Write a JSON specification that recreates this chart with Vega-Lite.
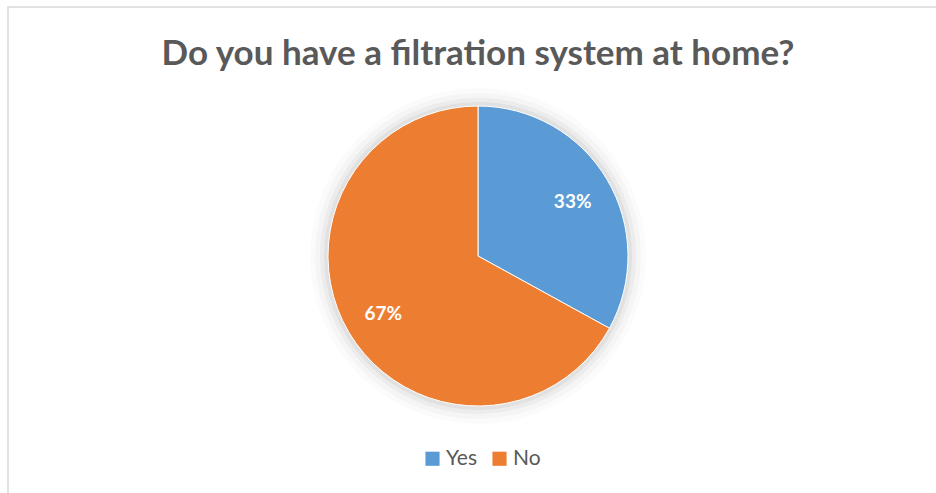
{
  "$schema": "https://vega.github.io/schema/vega-lite/v6.json",
  "width": 940,
  "height": 498,
  "autosize": "none",
  "padding": {"left": 8, "top": 7, "right": 0, "bottom": 0},
  "background": "white",
  "title": {
    "text": "Do you have a filtration system at home?",
    "font": "Lato",
    "fontSize": 35,
    "fontWeight": "bold",
    "color": "#595959",
    "anchor": "middle",
    "offset": -66
  },
  "data": {"values": [
    {"answer": "Yes", "value": 33, "label": "33%"},
    {"answer": "No", "value": 67, "label": "67%"}
  ]},
  "layer": [
    {
      "data": {"values": [{"frame": 1}]},
      "mark": {"type": "rect", "fill": null, "stroke": "#d9d9d9", "strokeWidth": 1.5},
      "encoding": {}
    },
    {
      "encoding": {
        "theta": {"field": "value", "type": "quantitative", "stack": true},
        "order": {"field": "answer", "sort": "descending"}
      },
      "layer": [
        {"mark": {"type": "arc", "radius": 168, "fill": "#000000", "opacity": 0.015}},
        {"mark": {"type": "arc", "radius": 163, "fill": "#000000", "opacity": 0.025}},
        {"mark": {"type": "arc", "radius": 158, "fill": "#000000", "opacity": 0.035}},
        {"mark": {"type": "arc", "radius": 154, "fill": "#000000", "opacity": 0.045}},
        {
          "mark": {"type": "arc", "radius": 150, "stroke": "white", "strokeWidth": 1},
          "encoding": {
            "color": {
              "field": "answer",
              "type": "nominal",
              "scale": {"domain": ["Yes", "No"], "range": ["#5B9BD5", "#ED7D31"]},
              "legend": {
                "title": null,
                "orient": "none",
                "direction": "horizontal",
                "legendX": 414,
                "legendY": 441,
                "symbolType": "square",
                "symbolSize": 200,
                "symbolStrokeWidth": 0,
                "labelFont": "Lato",
                "labelFontSize": 21,
                "labelColor": "#595959",
                "columnPadding": 12,
                "labelOffset": 3
              }
            }
          }
        },
        {
          "mark": {"type": "text", "radius": 110, "font": "Lato", "fontSize": 19, "fontWeight": "bold", "fill": "white", "dy": 2},
          "encoding": {"text": {"field": "label", "type": "nominal"}}
        }
      ]
    }
  ]
}
